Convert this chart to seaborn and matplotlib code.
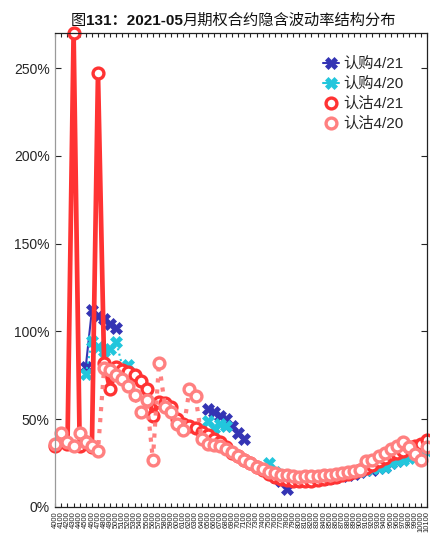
import numpy as np
import pandas as pd
import seaborn as sns
import matplotlib
matplotlib.use("Agg")
import matplotlib.pyplot as plt
from matplotlib.lines import Line2D
from matplotlib.ticker import FuncFormatter
from matplotlib.offsetbox import TextArea, HPacker, AnchoredOffsetbox

nan = np.nan

# strike labels along the x axis
strikes = [str(k) for k in range(4000, 10200, 100)]

# implied vol, 认购 (call) 4/21
call_0421 = [nan, nan, nan, nan, nan, 0.80, 1.12, 1.09, 1.07, 1.04,
             1.02, nan, nan, nan, nan, nan, nan, nan, nan, nan,
             nan, nan, nan, nan, nan, 0.56, 0.54, 0.52, 0.50, 0.46,
             0.42, 0.39, nan, nan, nan, nan, 0.17, 0.15, 0.10, 0.15,
             0.15, 0.15, 0.155, 0.16, 0.16, 0.165, 0.17, 0.175, 0.18, 0.19,
             0.20, 0.21, 0.21, 0.22, 0.23, 0.25, 0.26, 0.28, 0.30, 0.31,
             0.33, 0.34]

# 认购 (call) 4/20
call_0420 = [nan, nan, nan, nan, nan, 0.755, 0.945, 0.91, 0.89, 0.90,
             0.94, 0.80, 0.81, nan, nan, nan, nan, nan, nan, nan,
             nan, nan, nan, nan, nan, 0.49, 0.45, 0.47, 0.46, nan,
             nan, nan, nan, nan, nan, 0.25, 0.20, 0.18, 0.17, 0.165,
             0.165, 0.165, 0.17, 0.17, 0.175, 0.18, 0.185, 0.19, 0.195, 0.20,
             0.205, 0.21, 0.22, 0.22, 0.23, 0.25, 0.26, 0.27, 0.28, 0.30,
             0.31, 0.32]

# 认沽 (put) 4/21
put_0421 = [0.35, 0.38, 0.36, 2.70, 0.35, 0.37, 0.34, 2.47, 0.82, 0.67,
            0.80, 0.78, 0.77, 0.75, 0.72, 0.67, 0.52, 0.60, 0.59, 0.57,
            0.50, 0.47, 0.46, 0.45, 0.43, 0.41, 0.39, 0.37, 0.34, 0.31,
            0.29, 0.27, 0.25, 0.23, 0.21, 0.19, 0.17, 0.16, 0.155, 0.15,
            0.15, 0.15, 0.15, 0.155, 0.16, 0.165, 0.17, 0.18, 0.19, 0.20,
            0.21, 0.22, 0.24, 0.26, 0.28, 0.30, 0.31, 0.32, 0.34, 0.35,
            0.36, 0.38]

# 认沽 (put) 4/20
put_0420 = [0.36, 0.42, 0.37, 0.345, 0.42, 0.37, 0.35, 0.32, 0.79, 0.78,
            0.75, 0.73, 0.69, 0.64, 0.54, 0.61, 0.27, 0.82, 0.57, 0.54,
            0.47, 0.44, 0.67, 0.63, 0.39, 0.36, 0.355, 0.345, 0.33, 0.315,
            0.29, 0.27, 0.25, 0.23, 0.215, 0.20, 0.195, 0.185, 0.18, 0.175,
            0.173, 0.175, 0.175, 0.178, 0.18, 0.183, 0.19, 0.195, 0.20, 0.205,
            0.21, 0.26, 0.27, 0.29, 0.31, 0.33, 0.35, 0.37, 0.34, 0.30,
            0.27, 0.34]

series_names = ["认购4/21", "认购4/20", "认沽4/21", "认沽4/20"]
series_vals = [call_0421, call_0420, put_0421, put_0420]

rows = []
for name, vals in zip(series_names, series_vals):
    v = np.array(vals, dtype=float)
    seg = np.cumsum(np.isnan(v))
    for i in range(len(v)):
        if not np.isnan(v[i]):
            rows.append((name, i, v[i], seg[i]))
df = pd.DataFrame(rows, columns=["series", "pos", "iv", "seg"])

sns.set_theme(style="white")
plt.rcParams["font.family"] = ["Liberation Sans", "Noto Sans CJK SC", "DejaVu Sans"]

fig = plt.figure(figsize=(4.3, 5.43), dpi=100)
ax = fig.add_axes([55.3 / 430, 1 - 507 / 543, 372 / 430, 474 / 543])

styles = {
    "认购4/21": dict(color="#3434B4", ls="-", lw=1.5, marker="X", ms=9, mec="#3434B4", mew=0.5),
    "认购4/20": dict(color="#22C6DC", ls=":", lw=1.5, marker="X", ms=9, mec="#22C6DC", mew=0.5),
    "认沽4/21": dict(color="#FF3333", ls="-", lw=3.4, marker="o", ms=7.8, mfc="white", mec="#FF3333", mew=2.4),
    "认沽4/20": dict(color="#FF8080", ls=":", lw=3.0, marker="o", ms=7.8, mfc="white", mec="#FF8080", mew=2.4),
}

for name in series_names:
    sub = df[df["series"] == name]
    st = styles[name]
    sns.lineplot(data=sub, x="pos", y="iv", units="seg", estimator=None, ax=ax,
                 color=st["color"], linestyle=st["ls"], linewidth=st["lw"],
                 marker=st["marker"], markersize=st["ms"],
                 markerfacecolor=st.get("mfc", st["color"]),
                 markeredgecolor=st["mec"], markeredgewidth=st["mew"],
                 clip_on=False, legend=False)

ax.set_xlim(0, len(strikes) - 1)
ax.set_ylim(0, 2.70)
ax.set_xticks(range(len(strikes)))
ax.set_xticklabels(strikes, rotation=90, fontsize=5.5, color="#222222")
ax.set_yticks([0, 0.5, 1.0, 1.5, 2.0, 2.5])
ax.yaxis.set_major_formatter(FuncFormatter(lambda v, p: f"{v * 100:.0f}%"))
ax.tick_params(axis="y", labelsize=10, labelcolor="#262626", direction="in",
               length=4, width=0.8, right=True, left=True, pad=4)
ax.tick_params(axis="x", direction="in", length=3, width=0.8, top=True, bottom=True, pad=3)
ax.set_xlabel("")
ax.set_ylabel("")
for side, sp in ax.spines.items():
    sp.set_visible(True)
    sp.set_linewidth(0.9)
    sp.set_color("#222222")
ax.spines["left"].set_color("#9a9a9a")

handles = [Line2D([0], [0], color=styles[n]["color"], ls="-", lw=styles[n]["lw"] if n.startswith("认购") else 0,
                  marker=styles[n]["marker"], ms=styles[n]["ms"],
                  mfc=styles[n].get("mfc", styles[n]["color"]), mec=styles[n]["mec"],
                  mew=styles[n]["mew"]) for n in series_names]
ax.legend(handles, series_names, loc="upper right", bbox_to_anchor=(0.965, 0.972),
          frameon=False, fontsize=11, handlelength=1.0, handletextpad=0.3,
          labelspacing=0.38, borderpad=0.2)

# title: mixed regular / bold pieces
title_parts = [("图", "normal"), ("131：2021-05", "bold"), ("月期权合约隐含波动率结构分布", "normal")]
areas = [TextArea(t, textprops=dict(fontsize=11, fontweight=w, color="#111111",
                                    family=["Liberation Sans", "Noto Sans CJK SC"]))
         for t, w in title_parts]
box = HPacker(children=areas, pad=0, sep=0, align="baseline")
anc = AnchoredOffsetbox(loc="center", child=box, bbox_to_anchor=(233.5 / 430, 1 - 21 / 543),
                        bbox_transform=fig.transFigure, frameon=False, pad=0, borderpad=0)
fig.add_artist(anc)

fig.savefig("out.png", dpi=100)
